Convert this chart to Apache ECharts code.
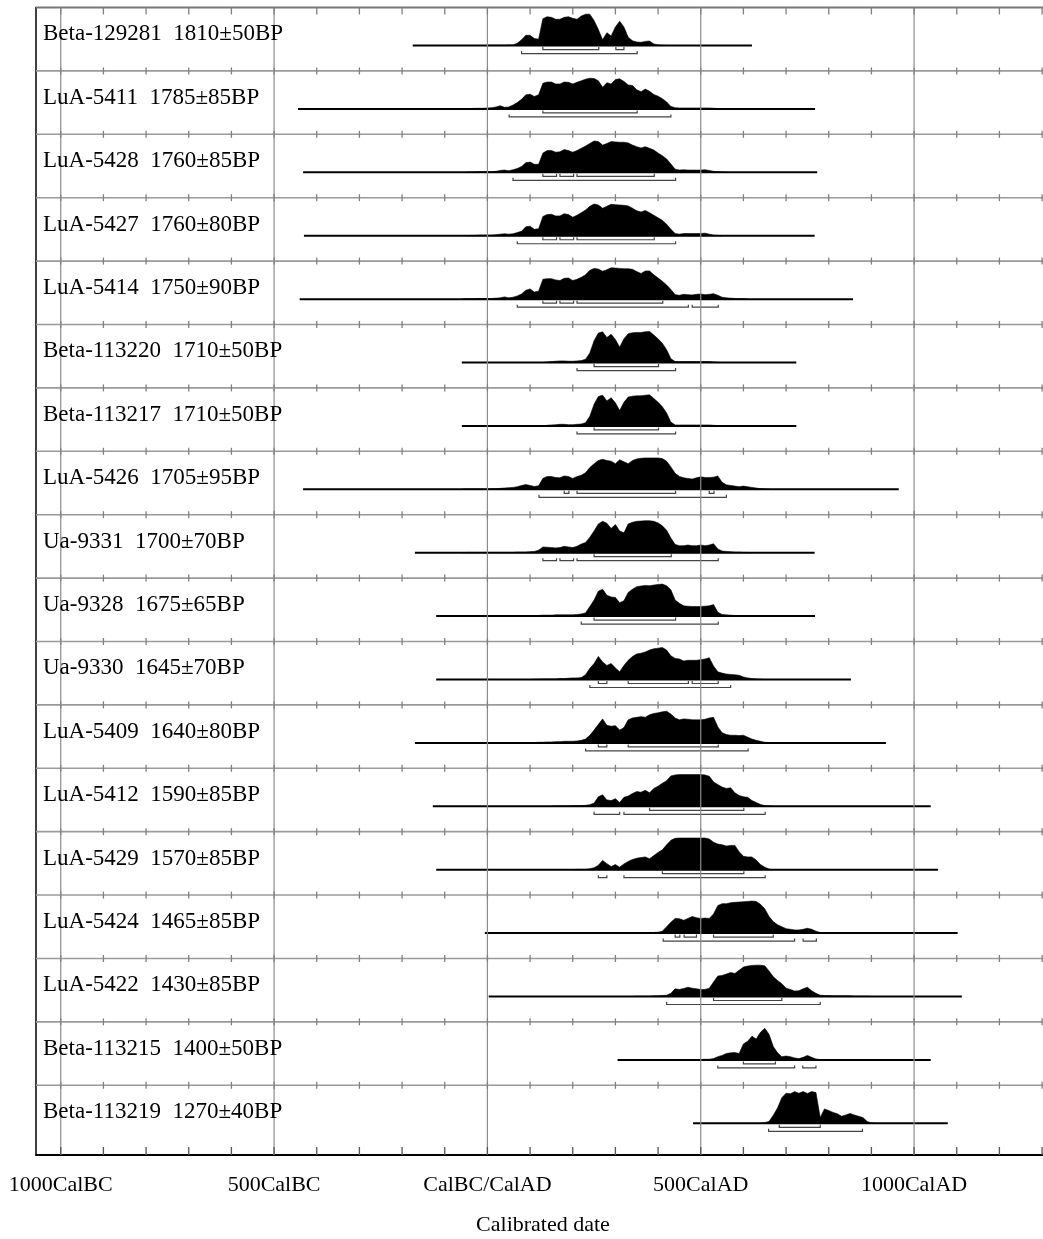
<!DOCTYPE html>
<html><head><meta charset="utf-8">
<script src="https://cdn.jsdelivr.net/npm/echarts@6/dist/echarts.min.js"></script>
<style>html,body{margin:0;padding:0;background:#fff}#c{width:1043px;height:1239px}</style>
</head><body><div id="c"></div>
<script>
// ---- sample names (row labels) ----
const SAMPLES = [
  'Beta-129281  1810±50BP','LuA-5411  1785±85BP','LuA-5428  1760±85BP','LuA-5427  1760±80BP',
  'LuA-5414  1750±90BP','Beta-113220  1710±50BP','Beta-113217  1710±50BP','LuA-5426  1705±95BP',
  'Ua-9331  1700±70BP','Ua-9328  1675±65BP','Ua-9330  1645±70BP','LuA-5409  1640±80BP',
  'LuA-5412  1590±85BP','LuA-5429  1570±85BP','LuA-5424  1465±85BP','LuA-5422  1430±85BP',
  'Beta-113215  1400±50BP','Beta-113219  1270±40BP'
];
// calibration range (line) of each row, years AD (negative = BC)
const RANGE_START = [-175,-444,-432,-430,-440,-60,-60,-432,-170,-120,-120,-170,-128,-120,-6,3,305,482];
const RANGE_END   = [620,768,773,767,857,724,724,964,767,768,852,934,1039,1056,1102,1112,1039,1079];
// probability distributions: first year of each array, sampled every 10 years, relative height 0-100
const STEP = 10;
const DIST_START = [0,-50,-50,-50,-60,130,130,-60,-60,100,100,100,150,200,340,340,460,640];
const P_BETA129281 = [1,1,1,1,1,2,2,7,18,32, 32,22,20,84,90,88,82,82,88,90, 85,82,92,98,98,78,50,18,40,30, 58,76,58,26,15,11,10,13,14,5, 2,1,0];
const P_LUA5411 = [0,1,2,2,2, 3,4,6,10,5,6,12,20,30,44, 46,39,44,80,84,84,78,78,84,83, 78,83,88,93,96,95,88,68,82,78, 92,94,86,75,73,60,54,62,55,45, 40,32,22,8,4,3,3,3,3,3, 3,3,3,2,1,0];
const P_LUA5428 = [0,1,1,2,2, 2,2,3,6,7,5,8,12,18,30, 32,25,25,60,68,68,63,64,71,68, 63,68,75,82,90,98,96,85,90,96, 95,94,94,92,85,80,76,80,75,70, 60,52,42,26,10,7,8,7,7,7, 7,8,6,3,2,1,0];
const P_LUA5427 = [0,1,1,2,2, 2,2,3,5,6,5,6,10,14,28, 30,20,22,60,66,67,62,62,69,66, 58,64,72,80,92,99,96,86,92,98, 97,96,95,93,86,78,74,79,72,64, 56,48,36,20,7,5,7,7,7,7, 7,8,5,2,1,0];
const P_LUA5414 = [0,1,1,1,2,2, 2,2,3,4,7,4,6,10,16,28, 32,22,25,62,64,64,60,58,65,66, 58,62,68,76,90,96,94,87,92,98, 97,96,95,95,93,86,80,88,88,76, 66,56,44,30,14,12,15,14,13,15, 16,14,15,17,12,6,4,3,2,1, 1,0];
const P_BETA113220 = [0,2,3,4,5,5,4, 4,5,6,10,30,68,92,96,78,88, 72,48,74,90,93,94,94,96,97,86, 74,60,40,12,3,3,3,3,3,3, 3,3,3,2,1,0];
const P_BETA113217 = [0,2,3,4,5,5,4, 4,5,6,10,30,68,92,96,78,88, 72,48,74,90,93,94,94,96,97,86, 74,60,40,12,3,3,3,3,3,3, 3,3,3,2,1,0];
const P_LUA5426 = [0,1,1,1,1,1, 1,2,2,3,4,5,6,8,12,15, 12,9,11,34,40,40,37,36,42,40, 34,40,44,52,68,80,90,94,90,88, 80,92,86,80,90,95,97,98,98,98, 98,96,88,70,50,40,36,34,32,36, 39,37,37,38,42,22,14,12,10,8, 10,8,6,4,2,1,0];
const P_UA9331 = [0,1,1,1,1,1, 1,1,1,1,1,1,1,2,2,2, 3,4,8,18,17,16,15,16,20,18, 16,20,27,32,48,68,90,98,92,76, 88,68,62,90,95,98,99,100,100,98, 93,84,70,46,26,22,22,24,22,22, 24,22,24,28,12,5,4,3,2,2, 1,1,0];
const P_UA9328 = [0,1,2,3,3,3,4,4,4,4, 4,5,7,10,30,50,78,84,65,60, 58,42,48,74,84,92,94,96,95,97, 99,100,95,82,50,40,32,31,30,30, 30,31,32,36,12,5,4,3,2,1, 1,1,0];
const P_UA9330 = [0,1,1,2,2,2,2,3,3,4, 5,5,6,15,35,50,72,55,44,50, 36,24,44,60,72,80,82,86,92,96, 98,100,92,74,66,64,58,60,60,60, 62,64,68,42,24,20,17,16,15,13, 8,5,3,2,1,0];
const P_LUA5409 = [0,1,2,2,3,3,4,4,5,5, 5,6,8,12,24,40,58,75,55,52, 54,40,48,72,78,80,82,80,88,92, 94,97,99,90,78,72,75,74,72,72, 72,74,78,80,50,32,26,24,24,23, 24,18,12,8,5,2,1,1,0];
const P_LUA5412 = [0,1,1,1,1,2,2,2,3,5, 10,30,36,20,18,24,12,28,32,40, 46,44,50,42,56,63,72,80,95,98, 99,99,99,99,99,99,98,94,76,68, 60,56,58,42,34,30,28,18,12,6, 2,1,0];
const P_LUA5429 = [0,1,1,1,3,6,14,29,19,10, 16,8,18,26,32,36,38,40,34,44, 54,62,78,92,98,99,99,99,99,99, 99,99,96,86,80,78,74,76,76,56, 42,40,40,30,16,8,2,0];
const P_LUA5424 = [0,1,1,1,2,2,3,6,20,34, 46,45,40,46,52,48,46,47,46,60, 86,92,92,95,96,97,98,99,100,99, 90,76,52,36,26,20,14,12,10,10, 12,15,12,6,2,1,0];
const P_LUA5422 = [0,1,1,1,1,2,2,3,4,10, 24,22,25,29,26,24,22,22,26,45, 64,66,70,75,72,82,92,95,97,98, 98,96,80,62,50,40,26,22,17,18, 24,29,18,10,4,3,3,2,2,2, 2,2,1,1,1,1,0];
const P_BETA113215 = [0,1,1,1,1,2,2,4,10,14, 20,22,23,20,50,58,74,65,86,99, 80,42,22,10,12,10,6,4,8,14, 8,3,1,0];
const P_BETA113219 = [0,2,6,25,48,80,94,92,99,94, 99,93,99,96,18,45,40,34,30,22, 26,31,26,22,18,6,1,0];
const DISTS = [P_BETA129281,P_LUA5411,P_LUA5428,P_LUA5427,P_LUA5414,P_BETA113220,P_BETA113217,P_LUA5426,
  P_UA9331,P_UA9328,P_UA9330,P_LUA5409,P_LUA5412,P_LUA5429,P_LUA5424,P_LUA5422,P_BETA113215,P_BETA113219];
// 68.2% (1 sigma) and 95.4% (2 sigma) ranges per row
const SIGMA1 = [
  [[130,261],[301,320]], [[130,351]], [[130,162],[170,202],[210,391]], [[130,162],[170,202],[210,391]],
  [[130,162],[170,202],[210,411]], [[250,401]], [[250,401]], [[180,191],[210,441],[520,531]],
  [[250,431]], [[250,441]], [[260,280],[330,471],[480,541]], [[260,280],[330,541]],
  [[380,601]], [[410,601]], [[440,451],[461,490],[530,670]], [[530,690]],
  [[600,675]], [[684,780]]
];
const SIGMA2 = [
  [[80,351]], [[51,430]], [[60,441]], [[70,441]],
  [[70,471],[480,541]], [[210,441]], [[210,441]], [[121,560]],
  [[130,162],[170,202],[210,541]], [[220,541]], [[240,570]], [[230,611]],
  [[250,310],[320,651]], [[260,280],[320,651]], [[412,720],[740,771]], [[420,780]],
  [[540,720],[739,770]], [[659,879]]
];
// axis
const X_MIN = -1058, X_MAX = 1342;
const MAJOR_YEARS = [-1000,-500,0,500,1000];
const TICK_LABELS = ['1000CalBC','500CalBC','CalBC/CalAD','500CalAD','1000CalAD'];
const MINOR_YEARS = [-1000,-900,-800,-700,-600,-500,-400,-300,-200,-100,0,100,200,300,400,500,600,700,800,900,1000,1100,1200,1300];
const ROW_EDGES = [0,1,2,3,4,5,6,7,8,9,10,11,12,13,14,15,16,17];
const Y_MAX = 18.1;
const BASE_FRAC = 0.6, PEAK = 0.505, LABEL_FRAC = 0.425;
const FONT = '"Liberation Serif","Times New Roman",serif';

const chart = echarts.init(document.getElementById('c'), null, {renderer:'canvas'});

function distItem(params, api){
  const i = params.dataIndex, vals = DISTS[i], y0 = DIST_START[i], base = i + BASE_FRAC;
  const pts = [api.coord([y0, base])];
  vals.forEach((v,k)=>pts.push(api.coord([y0 + k*STEP, base - v/100*PEAK])));
  pts.push(api.coord([y0 + (vals.length-1)*STEP, base]));
  return {type:'polygon', shape:{points:pts}, style:{fill:'#000', stroke:'#000', lineWidth:0.6}};
}
function rangeItem(params, api){
  const i = params.dataIndex, base = i + BASE_FRAC;
  const a = api.coord([RANGE_START[i], base]), b = api.coord([RANGE_END[i], base]);
  return {type:'line', shape:{x1:a[0],y1:a[1],x2:b[0],y2:b[1]}, style:{stroke:'#000', lineWidth:2}};
}
function bracketItem(list, off){
  return function(params, api){
    const i = params.dataIndex, base = i + BASE_FRAC;
    const children = list[i].map(r=>{
      const a = api.coord([r[0], base]), b = api.coord([r[1], base]);
      const y = a[1] + off;
      return {type:'polyline', shape:{points:[[a[0],y-2.5],[a[0],y],[b[0],y],[b[0],y-2.5]]},
              style:{stroke:'#444', lineWidth:1.2, fill:null}};
    });
    return {type:'group', children};
  };
}
function labelItem(params, api){
  const i = params.dataIndex;
  const p = api.coord([X_MIN, i + LABEL_FRAC]);
  return {type:'text', x:p[0]+7, y:p[1], style:{text:SAMPLES[i], fontSize:23, fontFamily:FONT, fill:'#000', align:'left', verticalAlign:'middle'}};
}
function majorItem(params, api){
  const yr = MAJOR_YEARS[params.dataIndex];
  const a = api.coord([yr, 0]), b = api.coord([yr, Y_MAX]);
  return {type:'line', shape:{x1:a[0],y1:a[1],x2:b[0],y2:b[1]}, style:{stroke:'#8c8c8c', lineWidth:1.2}};
}
function sepItem(params, api){
  const r = ROW_EDGES[params.dataIndex];
  const a = api.coord([X_MIN, r]), b = api.coord([X_MAX, r]);
  const children = [{type:'line', shape:{x1:a[0],y1:a[1],x2:b[0],y2:b[1]},
    style:{stroke: r===0 ? '#777' : '#9a9a9a', lineWidth: r===0 ? 2 : 1.6}}];
  MINOR_YEARS.forEach(yr=>{
    const p = api.coord([yr, r]);
    const up = r===0 ? 0 : 3.5, dn = r===0 ? 7 : 3.5;
    children.push({type:'line', shape:{x1:p[0],y1:p[1]-up,x2:p[0],y2:p[1]+dn}, style:{stroke:'#808080', lineWidth:1.3}});
  });
  return {type:'group', children};
}
function bottomTickItem(params, api){
  const yr = MINOR_YEARS[params.dataIndex];
  const p = api.coord([yr, Y_MAX]);
  return {type:'line', shape:{x1:p[0],y1:p[1]-8,x2:p[0],y2:p[1]}, style:{stroke:'#555', lineWidth:1.3}};
}

const rowData = SAMPLES.map((s,i)=>[RANGE_START[i], i]);
chart.setOption({
  animation:false,
  backgroundColor:'#fff',
  grid:{left:36, width:1024, top:7.5, height:1147.5, containLabel:false, outerBoundsMode:'none'},
  xAxis:{type:'value', min:X_MIN, max:X_MAX, position:'bottom',
    axisLine:{show:true, onZero:false, lineStyle:{color:'#000', width:2}},
    axisTick:{show:false}, splitLine:{show:false},
    axisLabel:{customValues:MAJOR_YEARS, formatter:v=>TICK_LABELS[MAJOR_YEARS.indexOf(v)],
      fontFamily:FONT, fontSize:22, color:'#000', margin:19},
    name:'Calibrated date', nameLocation:'middle', nameGap:59,
    nameTextStyle:{fontFamily:FONT, fontSize:22, color:'#000', padding:[0,10,0,0]}},
  yAxis:{type:'value', min:0, max:Y_MAX, inverse:true, position:'left',
    axisLine:{show:true, onZero:false, lineStyle:{color:'#000', width:1.5}},
    axisTick:{show:false}, axisLabel:{show:false}, splitLine:{show:false}},
  series:[
    {type:'custom', name:'distributions', renderItem:distItem, data:rowData, z:2, silent:true},
    {type:'custom', name:'ranges', renderItem:rangeItem, data:rowData, z:3, silent:true},
    {type:'custom', name:'sigma1', renderItem:bracketItem(SIGMA1, 4), data:rowData, z:3, silent:true},
    {type:'custom', name:'sigma2', renderItem:bracketItem(SIGMA2, 8), data:rowData, z:3, silent:true},
    {type:'custom', name:'major', renderItem:majorItem, data:MAJOR_YEARS.map(y=>[y,0]), z:4, silent:true},
    {type:'custom', name:'separators', renderItem:sepItem, data:ROW_EDGES.map(r=>[X_MIN,r]), z:4, silent:true},
    {type:'custom', name:'bottomTicks', renderItem:bottomTickItem, data:MINOR_YEARS.map(y=>[y,Y_MAX]), z:4, silent:true},
    {type:'custom', name:'labels', renderItem:labelItem, data:rowData, z:5, silent:true}
  ]
});
</script></body></html>
